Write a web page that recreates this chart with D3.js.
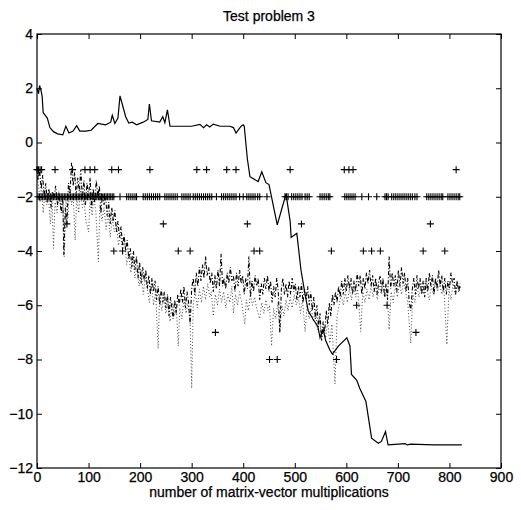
<!DOCTYPE html>
<html>
<head>
<meta charset="utf-8">
<script src="https://cdn.jsdelivr.net/npm/d3@7"></script>
<style>
  body { margin: 0; background: #fff; }
  #chart text { font-family: "Liberation Sans", Arial, sans-serif; fill: #000; stroke: #000; stroke-width: 0.25px; }
</style>
</head>
<body>
<div id="chart"></div>
<script>
// axis ticks
var xTicks = [0, 100, 200, 300, 400, 500, 600, 700, 800, 900];
var yTicks = [4, 2, 0, -2, -4, -6, -8, -10, -12];

// solid line [matvecs, value]
var solidLine = [[0,2.0],[3,1.8],[5,2.1],[8,1.9],[10,1.7],[12,1.1],[16,1.0],[20,0.9],[25,0.55],[32,0.4],[40,0.32],[50,0.28],[56,0.6],[62,0.35],[70,0.42],[77,0.62],[83,0.42],[95,0.42],[105,0.45],[118,0.7],[133,0.65],[143,0.75],[146,1.0],[151,0.7],[157,0.9],[161,1.72],[167,1.3],[172,0.95],[178,0.72],[185,0.75],[193,0.65],[206,0.75],[215,0.85],[218,1.42],[222,0.8],[238,0.75],[244,0.95],[248,0.73],[253,1.2],[258,0.6],[275,0.6],[300,0.6],[316,0.67],[323,0.55],[329,0.65],[335,0.57],[342,0.68],[355,0.6],[374,0.6],[381,0.55],[386,0.35],[392,0.5],[396,0.6],[400,0.65],[402,0.6],[408,-0.6],[413,-1.26],[429,-1.44],[436,-1.08],[444,-1.48],[450,-1.55],[466,-3.04],[483,-1.9],[491,-2.9],[493,-3.5],[500,-3.4],[504,-3.35],[512,-4.7],[520,-5.6],[526,-6.2],[535,-6.5],[545,-6.8],[549,-7.2],[555,-6.9],[560,-7.3],[568,-7.65],[573,-7.8],[585,-7.5],[601,-7.2],[607,-7.5],[610,-8.55],[620,-8.76],[626,-9.06],[638,-9.55],[649,-10.9],[662,-11.09],[668,-11.02],[676,-10.66],[681,-11.15],[714,-11.1],[718,-11.15],[725,-11.12],[770,-11.15],[824,-11.15]];

// dash-dot line
var dashDotLine = [[0,-0.9],[2,-1.4],[5,-1.0],[8,-1.7],[11,-1.2],[14,-2.0],[17,-1.5],[20,-2.2],[23,-1.7],[27,-2.4],[30,-1.8],[33,-2.1],[36,-1.6],[40,-2.3],[43,-1.9],[47,-2.6],[50,-2.0],[52,-4.15],[55,-2.4],[58,-3.0],[61,-1.5],[64,-1.9],[67,-0.75],[70,-1.6],[73,-1.1],[76,-2.0],[79,-1.3],[82,-1.8],[85,-1.0],[88,-2.1],[91,-1.4],[94,-2.3],[97,-1.5],[100,-2.0],[103,-1.3],[106,-2.4],[109,-1.7],[112,-2.2],[115,-1.4],[118,-2.0],[121,-1.6],[124,-2.6],[127,-1.9],[130,-2.3],[133,-2.0],[136,-2.7],[139,-2.2],[142,-3.0],[145,-2.4],[148,-2.9],[151,-2.5],[154,-3.3],[157,-2.9],[160,-3.5],[163,-3.1],[166,-3.8],[169,-3.4],[172,-4.0],[175,-3.6],[178,-4.3],[181,-3.9],[184,-4.6],[187,-4.0],[190,-4.7],[193,-4.2],[196,-5.0],[199,-4.4],[202,-5.2],[205,-4.6],[208,-5.1],[211,-4.7],[214,-5.4],[217,-4.9],[220,-5.6],[223,-5.0],[226,-5.5],[229,-5.1],[232,-5.8],[235,-5.3],[238,-6.0],[241,-5.4],[244,-5.9],[247,-5.5],[250,-6.1],[253,-5.6],[256,-6.4],[259,-5.7],[262,-6.2],[264,-6.5],[267,-5.8],[270,-6.3],[273,-5.6],[276,-6.0],[279,-5.4],[282,-5.9],[285,-5.3],[288,-6.1],[291,-5.5],[294,-5.9],[297,-6.7],[300,-5.4],[303,-5.0],[306,-5.6],[309,-4.8],[312,-5.3],[315,-4.6],[318,-5.1],[321,-4.5],[324,-5.0],[327,-4.2],[330,-4.9],[333,-4.6],[336,-5.2],[339,-4.8],[342,-5.5],[345,-4.9],[348,-5.4],[351,-4.7],[354,-5.3],[357,-4.1],[360,-5.3],[363,-5.0],[366,-5.4],[369,-4.8],[372,-5.2],[375,-4.6],[378,-5.1],[381,-4.9],[384,-5.5],[387,-4.8],[390,-5.3],[393,-4.7],[396,-5.2],[399,-4.9],[402,-5.6],[405,-5.0],[408,-5.4],[411,-4.2],[414,-5.7],[417,-5.1],[420,-5.5],[423,-4.9],[426,-5.3],[429,-5.0],[432,-5.8],[435,-5.2],[438,-5.6],[441,-5.0],[444,-5.4],[447,-4.9],[450,-5.5],[453,-5.1],[456,-5.9],[459,-5.3],[462,-5.7],[465,-5.0],[468,-5.5],[471,-7.0],[474,-5.4],[477,-5.0],[480,-5.6],[483,-5.2],[486,-5.7],[489,-5.1],[492,-5.6],[495,-5.0],[498,-5.5],[501,-5.2],[504,-5.8],[507,-5.3],[510,-5.7],[513,-5.2],[516,-5.9],[519,-5.4],[522,-5.8],[525,-5.3],[528,-6.0],[531,-5.5],[534,-6.2],[537,-5.7],[540,-6.5],[543,-6.0],[546,-6.8],[549,-6.3],[552,-7.3],[555,-6.6],[558,-7.0],[561,-6.2],[564,-6.7],[567,-5.9],[570,-6.4],[573,-5.6],[576,-6.0],[579,-5.5],[582,-5.9],[585,-5.3],[588,-5.7],[591,-5.1],[594,-5.6],[597,-5.0],[600,-5.5],[603,-4.9],[606,-5.4],[609,-5.0],[612,-5.6],[615,-5.1],[618,-5.5],[621,-4.8],[624,-5.3],[627,-4.9],[630,-5.6],[633,-5.0],[636,-5.4],[639,-4.8],[642,-5.2],[645,-4.7],[648,-5.3],[651,-4.9],[654,-5.5],[657,-5.0],[660,-5.6],[663,-5.1],[666,-4.9],[668,-5.5],[671,-5.0],[674,-5.7],[677,-5.2],[680,-5.8],[683,-4.2],[686,-5.4],[689,-4.8],[692,-5.3],[695,-4.9],[698,-5.5],[701,-4.7],[704,-5.3],[707,-4.6],[710,-5.2],[713,-4.8],[716,-5.5],[719,-5.0],[722,-5.9],[725,-6.2],[728,-5.4],[731,-5.0],[734,-5.6],[737,-4.9],[740,-5.4],[743,-5.0],[746,-5.6],[749,-5.1],[752,-5.7],[755,-5.0],[758,-5.5],[761,-4.8],[764,-5.3],[767,-4.9],[770,-5.6],[773,-5.0],[776,-5.4],[779,-4.7],[782,-5.3],[785,-4.9],[788,-5.5],[791,-5.0],[794,-5.6],[797,-5.1],[800,-5.4],[803,-4.8],[806,-5.2],[809,-5.0],[812,-5.6],[815,-5.1],[818,-5.5],[821,-5.2]];

// dotted line
var dottedLine = [[0,-1.2],[3,-1.6],[6,-2.2],[9,-1.5],[12,-2.6],[15,-1.9],[19,-2.3],[22,-2.0],[26,-3.0],[29,-2.1],[32,-3.9],[35,-2.2],[39,-2.6],[42,-1.8],[46,-2.4],[50,-2.0],[53,-4.2],[56,-2.1],[60,-2.8],[63,-1.6],[67,-2.3],[70,-1.9],[74,-3.6],[77,-2.0],[81,-2.6],[84,-1.7],[88,-2.4],[91,-2.1],[95,-2.9],[100,-3.3],[103,-2.2],[107,-2.7],[110,-2.0],[114,-2.5],[119,-4.4],[122,-2.3],[126,-2.9],[130,-2.4],[134,-3.2],[138,-2.6],[142,-3.5],[146,-2.8],[150,-3.3],[154,-3.0],[158,-3.8],[162,-3.4],[166,-4.0],[170,-3.6],[174,-4.5],[178,-4.1],[182,-4.8],[186,-4.3],[190,-5.0],[194,-4.6],[198,-5.3],[202,-4.7],[206,-5.6],[210,-5.0],[214,-5.4],[218,-5.9],[222,-5.2],[226,-6.0],[230,-5.5],[235,-7.6],[238,-5.6],[242,-6.2],[246,-5.7],[250,-6.3],[254,-5.8],[258,-6.6],[262,-5.9],[266,-6.4],[270,-6.0],[274,-7.5],[277,-6.1],[281,-6.5],[285,-5.8],[289,-6.3],[293,-5.9],[297,-6.6],[300,-9.06],[303,-6.0],[307,-5.5],[311,-6.1],[315,-5.4],[319,-5.9],[323,-5.3],[327,-5.8],[331,-5.2],[335,-5.7],[338,-5.5],[342,-6.4],[346,-5.6],[350,-6.0],[354,-5.4],[358,-5.9],[362,-5.5],[366,-6.1],[370,-5.6],[374,-5.9],[378,-5.3],[381,-6.3],[385,-5.6],[389,-6.0],[393,-5.5],[397,-5.9],[403,-6.7],[406,-5.8],[410,-6.2],[414,-5.6],[418,-6.0],[422,-5.7],[426,-6.1],[432,-6.5],[436,-5.9],[440,-6.3],[444,-5.8],[448,-6.2],[451,-6.0],[455,-7.5],[459,-6.1],[463,-6.5],[467,-5.9],[471,-7.0],[475,-6.0],[479,-6.4],[483,-5.8],[487,-6.2],[491,-5.7],[495,-6.1],[499,-5.6],[503,-6.0],[507,-5.7],[511,-6.3],[515,-5.8],[520,-6.97],[524,-6.0],[528,-6.5],[532,-6.1],[536,-6.6],[540,-6.2],[544,-6.9],[548,-6.4],[552,-7.3],[556,-6.8],[560,-7.2],[564,-6.6],[568,-7.4],[572,-6.7],[578,-8.9],[582,-6.4],[586,-6.0],[590,-5.6],[594,-6.0],[598,-5.5],[602,-5.9],[606,-5.4],[610,-5.8],[614,-5.3],[618,-5.7],[622,-5.4],[628,-6.97],[632,-5.5],[636,-5.9],[640,-5.4],[644,-5.8],[648,-5.3],[652,-5.7],[656,-5.2],[660,-5.8],[664,-5.3],[668,-5.6],[672,-5.2],[676,-5.7],[679,-5.4],[683,-6.9],[687,-5.5],[691,-5.9],[695,-5.3],[699,-5.7],[703,-5.2],[707,-5.6],[711,-5.1],[715,-5.5],[719,-5.9],[725,-7.4],[729,-5.6],[733,-5.9],[737,-5.3],[741,-5.7],[745,-5.2],[749,-5.6],[753,-5.1],[757,-5.5],[761,-5.8],[765,-5.3],[769,-5.6],[773,-5.1],[777,-5.5],[781,-5.2],[785,-5.6],[789,-5.3],[795,-7.45],[799,-5.4],[803,-5.8],[807,-5.2],[811,-5.6],[815,-5.1],[819,-5.5],[822,-5.3]];

// "+" markers, x positions per level
var plusAtMinus1 = [0, 3, 6, 9, 35, 69, 93, 103, 112, 145, 158, 219, 310, 329, 368, 386, 491, 596, 605, 613, 813];
var plusAtMinus2 = [2,5,8,11,14,17,20,23,26,29,32,35,38,41,44,47,50,53,56,59,62,65,68,71,74,77,80,83,86,89,92,95,98,101,104,107,110,113,116,119,122,125,128,131,134,137,140,143,146,149,161,174,178,182,186,190,193,206,210,214,218,222,226,230,234,238,248,252,256,260,264,268,272,281,285,289,293,297,303,307,311,315,319,323,327,331,335,339,348,358,362,366,370,374,378,382,386,393,400,407,411,415,419,423,428,432,446,481,484,487,494,498,502,506,510,514,520,524,528,549,553,557,561,565,568,597,601,605,609,613,617,630,643,659,675,678,681,688,692,696,700,704,708,712,716,720,724,728,733,737,756,760,764,768,772,776,780,784,787,797,801,805,809,813,817,820];
var plusAtMinus3 = [58, 245, 408, 513, 763];
var plusAtMinus4 = [149, 166, 274, 297, 421, 432, 571, 633, 649, 666, 749, 791];
var plusAtMinus6 = [620, 679];
var plusAtMinus7 = [346, 735];
var plusAtMinus8 = [451, 466, 581];

var width = 521, height = 510;
var margin = {top: 34, right: 20, bottom: 42, left: 37};

var svg = d3.select("#chart").append("svg")
    .attr("width", width)
    .attr("height", height);

var x = d3.scaleLinear().domain([0, 900]).range([margin.left, width - margin.right]);
var y = d3.scaleLinear().domain([-12, 4]).range([height - margin.bottom, margin.top]);

// axes, ticks point inwards on all four sides
svg.append("g")
  .attr("transform", "translate(0," + y(-12) + ")")
  .call(d3.axisBottom(x).tickValues(xTicks).tickSizeInner(-5).tickSizeOuter(0).tickPadding(4));
svg.append("g")
  .attr("transform", "translate(0," + y(4) + ")")
  .call(d3.axisTop(x).tickValues(xTicks).tickSizeInner(-5).tickSizeOuter(0).tickFormat(""));
svg.append("g")
  .attr("transform", "translate(" + x(0) + ",0)")
  .call(d3.axisLeft(y).tickValues(yTicks).tickSizeInner(-5).tickSizeOuter(0).tickPadding(4));
svg.append("g")
  .attr("transform", "translate(" + x(900) + ",0)")
  .call(d3.axisRight(y).tickValues(yTicks).tickSizeInner(-5).tickSizeOuter(0).tickFormat(""));

svg.selectAll(".domain").remove();
svg.selectAll(".tick line").attr("stroke", "#000");
svg.selectAll(".tick text").style("font-size", "14px").attr("fill", "#000");

// frame
svg.append("rect")
  .attr("x", x(0)).attr("y", y(4))
  .attr("width", x(900) - x(0)).attr("height", y(-12) - y(4))
  .attr("fill", "none").attr("stroke", "#000").attr("stroke-width", 1.2);

var line = d3.line()
  .x(function(d){ return x(d[0]); })
  .y(function(d){ return y(d[1]); });

svg.append("path")
  .attr("d", line(dottedLine))
  .attr("fill", "none")
  .attr("stroke", "#333")
  .attr("stroke-width", 0.9)
  .attr("stroke-dasharray", "1,2.2");

svg.append("path")
  .attr("d", line(dashDotLine))
  .attr("fill", "none")
  .attr("stroke", "#000")
  .attr("stroke-width", 1.1)
  .attr("stroke-dasharray", "4,2,1,2");

svg.append("path")
  .attr("d", line(solidLine))
  .attr("fill", "none")
  .attr("stroke", "#000")
  .attr("stroke-width", 1.2);

// build the marker list from the level arrays
var plusMarks = [];
[[-1, plusAtMinus1], [-2, plusAtMinus2], [-3, plusAtMinus3], [-4, plusAtMinus4],
 [-6, plusAtMinus6], [-7, plusAtMinus7], [-8, plusAtMinus8]].forEach(function(row){
  row[1].forEach(function(v){ plusMarks.push([v, row[0]]); });
});

var s = 3.5;
svg.append("g").selectAll("path")
  .data(plusMarks)
  .enter().append("path")
  .attr("d", function(d){
    var cx = x(d[0]), cy = y(d[1]);
    return "M" + (cx - s) + "," + cy + "H" + (cx + s) + "M" + cx + "," + (cy - s) + "V" + (cy + s);
  })
  .attr("stroke", "#000")
  .attr("stroke-width", 1.1)
  .attr("fill", "none");

// title and x label
svg.append("text")
  .attr("x", (x(0) + x(900)) / 2)
  .attr("y", 21)
  .attr("text-anchor", "middle")
  .style("font-size", "14px")
  .text("Test problem 3");

svg.append("text")
  .attr("x", (x(0) + x(900)) / 2)
  .attr("y", 497)
  .attr("text-anchor", "middle")
  .style("font-size", "14px")
  .text("number of matrix-vector multiplications");
</script>
</body>
</html>
